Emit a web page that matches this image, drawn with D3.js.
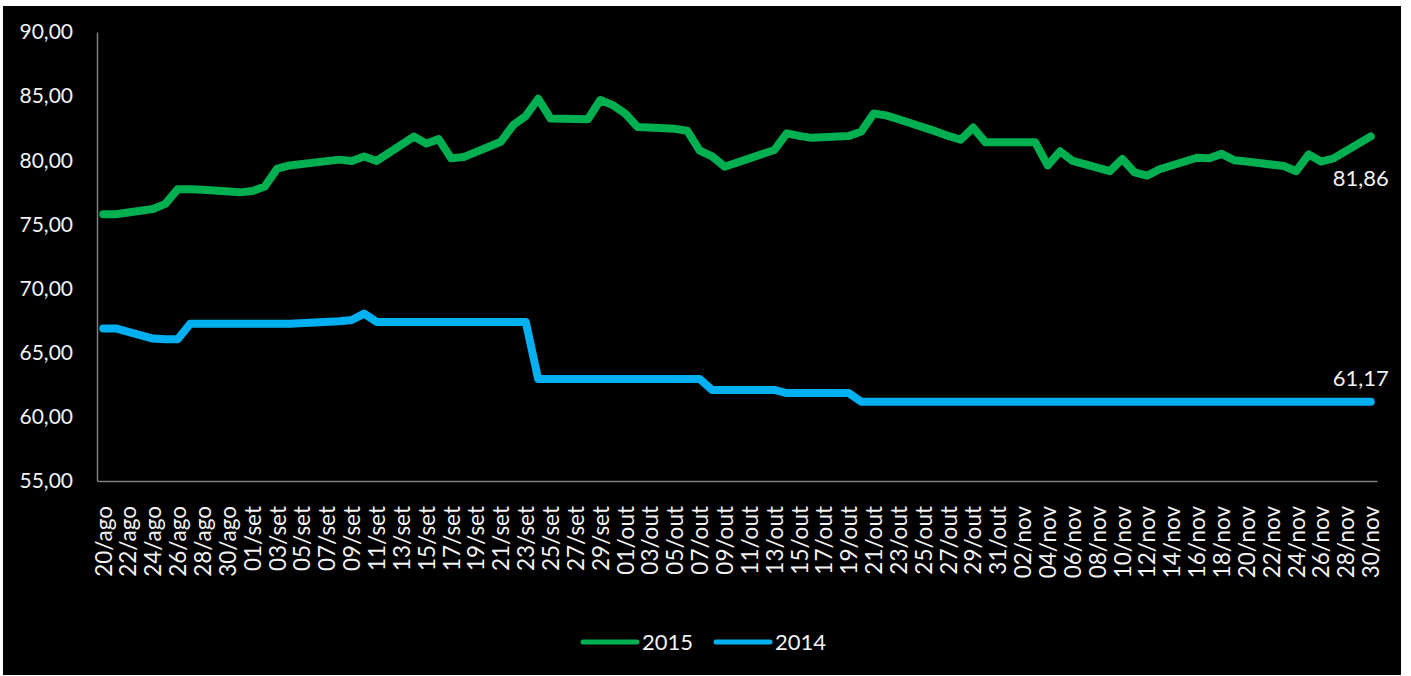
<!DOCTYPE html>
<meta charset="utf-8">
<head>
  <meta charset="utf-8">
  <title>2015 x 2014</title>
  <style>
    body { margin: 0; background: #fff; }
    svg { display: block; }
    text { font-family: Lato, "Open Sans", sans-serif; fill: #f2f2f2; }
  </style>
</head>
<body>
<script src="https://cdn.jsdelivr.net/npm/d3@7"></script>
<script>

// datas dos pregoes (dia/mes, 2015)
var dias = ["20/08","21/08","24/08","25/08","26/08","27/08","28/08","31/08",
  "01/09","02/09","03/09","04/09","08/09","09/09","10/09","11/09",
  "14/09","15/09","16/09","17/09","18/09","21/09","22/09","23/09","24/09","25/09",
  "28/09","29/09","30/09","01/10","02/10","05/10","06/10","07/10","08/10","09/10",
  "13/10","14/10","15/10","16/10","19/10","20/10","21/10","22/10","23/10",
  "26/10","27/10","28/10","29/10","30/10","03/11","04/11","05/11","06/11",
  "09/11","10/11","11/11","12/11","13/11","16/11","17/11","18/11","19/11","20/11",
  "23/11","24/11","25/11","26/11","27/11","30/11"];

var valores2015 = [75.8,75.8,76.2,76.6,77.75,77.75,77.7,77.5,
  77.6,77.95,79.35,79.6,80.05,79.95,80.3,79.95,
  81.85,81.3,81.65,80.15,80.25,81.45,82.75,83.45,84.8,83.25,
  83.2,84.7,84.3,83.65,82.6,82.45,82.3,80.75,80.3,79.5,
  80.8,82.1,81.9,81.75,81.9,82.25,83.65,83.5,83.2,
  82.25,81.9,81.6,82.55,81.4,81.4,79.6,80.7,79.95,
  79.15,80.1,79.05,78.8,79.3,80.2,80.15,80.5,80.0,79.9,
  79.55,79.15,80.45,79.9,80.15,81.86];

var valores2014 = [66.89,66.89,66.1,66.05,66.05,67.25,67.25,67.25,
  67.25,67.25,67.25,67.25,67.45,67.55,68.05,67.4,
  67.4,67.4,67.4,67.4,67.4,67.4,67.4,67.4,62.95,62.95,
  62.95,62.95,62.95,62.95,62.95,62.95,62.95,62.95,62.1,62.1,
  62.1,61.85,61.85,61.85,61.85,61.17,61.17,61.17,61.17,
  61.17,61.17,61.17,61.17,61.17,61.17,61.17,61.17,61.17,
  61.17,61.17,61.17,61.17,61.17,61.17,61.17,61.17,61.17,61.17,
  61.17,61.17,61.17,61.17,61.17,61.17];

var series = ["2015", "2014"];
var cores = ["#00b050", "#00b0f0"];
var yTicks = [55, 60, 65, 70, 75, 80, 85, 90];
var meses = ["jan","fev","mar","abr","mai","jun","jul","ago","set","out","nov","dez"];

var W = 1411, H = 676;
var margin = {top: 32, left: 97},
    width = 1280,
    height = 449;

var parse = function(s) {
  var p = s.split("/");
  return new Date(Date.UTC(2015, +p[1] - 1, +p[0]));
};
var inicio = parse(dias[0]), fim = parse(dias[dias.length - 1]);
var meioDia = 12 * 3600 * 1000;

// cada dia ocupa uma faixa; o ponto fica no meio dela
var x = d3.scaleUtc()
    .domain([new Date(+inicio - meioDia), new Date(+fim + meioDia)])
    .range([0, width]);

var y = d3.scaleLinear()
    .domain([55, 90])
    .range([height, 0]);

var fmt = function(v) { return d3.format(".2f")(v).replace(".", ","); };

var svg = d3.select("body").append("svg")
    .attr("width", W)
    .attr("height", H);

svg.append("rect")
    .attr("x", 3).attr("y", 6)
    .attr("width", 1398).attr("height", 669)
    .attr("fill", "#000");

var g = svg.append("g")
    .attr("transform", "translate(" + margin.left + "," + margin.top + ")");

// eixo y
var yAxis = g.append("g")
    .call(d3.axisLeft(y).tickValues(yTicks).tickFormat(fmt)
      .tickSize(0).tickPadding(24));
yAxis.select(".domain").attr("stroke", "#7f7f7f").attr("stroke-width", 1.5);
yAxis.selectAll("text")
    .style("font-size", "21px")
    .style("font-family", "Lato, 'Open Sans', sans-serif")
    .attr("fill", "#f2f2f2");

// eixo x, rotulo a cada 2 dias
var todosDias = d3.utcDay.range(inicio, new Date(+fim + 2 * meioDia));
var xTicks = todosDias.filter(function(d, i) { return i % 2 === 0; });

var xAxis = g.append("g")
    .attr("transform", "translate(0," + height + ")")
    .call(d3.axisBottom(x).tickValues(xTicks)
      .tickFormat(function(d) { return d3.utcFormat("%d")(d) + "/" + meses[d.getUTCMonth()]; })
      .tickSize(0).tickSizeOuter(0));
xAxis.select(".domain").attr("stroke", "#7f7f7f").attr("stroke-width", 1.5);
xAxis.selectAll("text")
    .attr("transform", "rotate(-90)")
    .attr("x", -25)
    .attr("y", 0)
    .attr("dy", "0.35em")
    .attr("text-anchor", "end")
    .attr("fill", "#f2f2f2")
    .style("font-size", "22.5px")
    .style("font-family", "Lato, 'Open Sans', sans-serif");

// linhas
var line = d3.line()
    .x(function(d) { return x(d.data); })
    .y(function(d) { return y(d.v); });

var dados = [valores2015, valores2014].map(function(vals) {
  return vals.map(function(v, i) { return {data: parse(dias[i]), v: v}; });
});

g.selectAll(".serie")
    .data(dados)
    .enter().append("path")
    .attr("class", "serie")
    .attr("d", line)
    .attr("fill", "none")
    .attr("stroke", function(d, i) { return cores[i]; })
    .attr("stroke-width", 8)
    .attr("stroke-linejoin", "round")
    .attr("stroke-linecap", "round");

// rotulo do ultimo valor
var desloc = [42, -24];
dados.forEach(function(d, i) {
  var ult = d[d.length - 1];
  g.append("text")
      .attr("x", x(ult.data) - 10)
      .attr("y", y(ult.v) + desloc[i])
      .attr("dy", "0.35em")
      .attr("text-anchor", "middle")
      .style("font-size", "22px")
      .text(fmt(ult.v));
});

// legenda
var legend = svg.append("g")
    .attr("transform", "translate(583,642)");
var item = legend.selectAll(".item")
    .data(series)
    .enter().append("g")
    .attr("class", "item")
    .attr("transform", function(d, i) { return "translate(" + (i * 133) + ",0)"; });
item.append("line")
    .attr("x1", 0).attr("x2", 54)
    .attr("stroke", function(d, i) { return cores[i]; })
    .attr("stroke-width", 5)
    .attr("stroke-linecap", "round");
item.append("text")
    .attr("x", 59)
    .attr("dy", "0.35em")
    .style("font-size", "22px")
    .text(function(d) { return d; });

</script>
</body>
